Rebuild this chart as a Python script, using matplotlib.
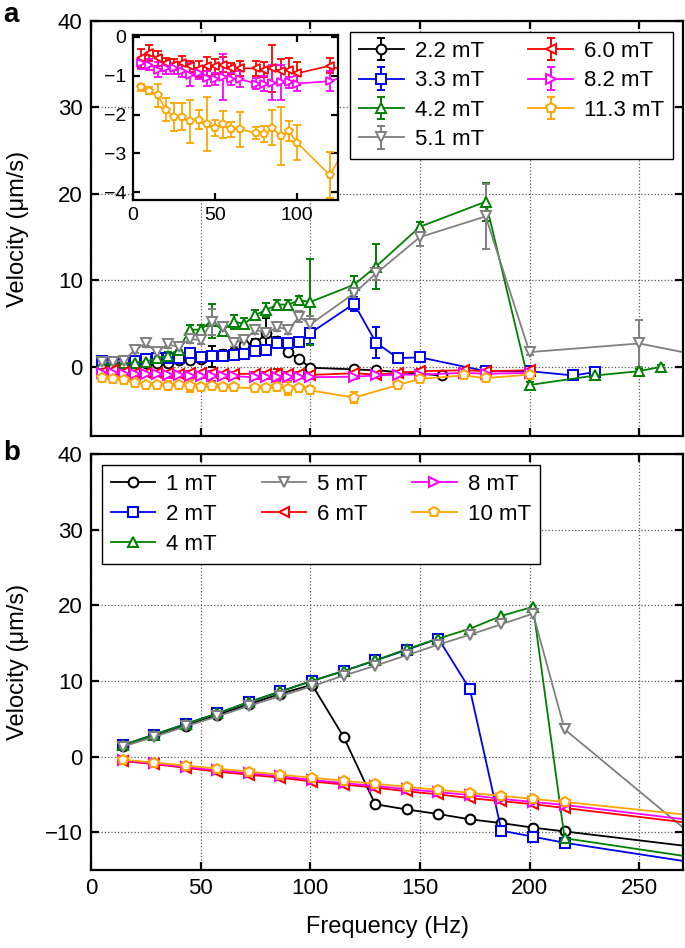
import matplotlib
matplotlib.use("Agg")
import matplotlib.pyplot as plt

plt.rcParams['font.family'] = ['Liberation Sans', 'DejaVu Sans']

# ---- panel a data (measured) ----
fa = [5, 10, 15, 20, 25, 30, 35, 40, 45, 50, 55, 60, 65, 70, 75, 80, 85, 90, 95, 100]

a22_f = fa + [120, 130, 160]
a22_v = [0.2, 0.3, 0.3, 0.4, 0.4, 0.5, 0.5, 0.8, 0.8, 0.9, 1.2, 1.5, 1.7, 2.5, 2.7, 3.9, 3.0, 1.7, 0.9, -0.1,
         -0.3, -0.4, -1.0]
a22_e = [0.2, 0.2, 0.2, 0.2, 0.2, 0.2, 0.3, 0.3, 0.3, 0.3, 1.2, 0.4, 0.4, 0.5, 0.5, 1.8, 0.5, 0.5, 0.4, 0.3,
         0.2, 0.2, 0.2]

a33_f = fa + [120, 130, 140, 150, 180, 200, 220, 230]
a33_v = [0.7, 0.6, 0.6, 0.7, 0.9, 1.0, 1.0, 1.0, 1.6, 1.1, 1.3, 1.2, 1.4, 1.5, 1.8, 2.0, 2.8, 2.7, 2.9, 3.9,
         7.3, 2.8, 1.0, 1.1, -0.5, -0.5, -1.0, -0.6]
a33_e = [0.3, 0.3, 0.3, 0.3, 0.3, 0.3, 0.3, 0.3, 0.4, 0.3, 0.3, 0.3, 0.3, 0.3, 0.4, 0.5, 0.4, 0.4, 0.4, 1.3,
         0.8, 1.8, 0.3, 0.3, 0.2, 0.2, 0.2, 0.2]

a42_f = fa + [120, 130, 150, 180, 200, 230, 250, 260]
a42_v = [0.3, 0.3, 0.4, 0.5, 0.6, 1.0, 1.3, 2.0, 4.3, 4.3, 5.3, 4.2, 5.2, 5.0, 6.0, 6.6, 7.2, 7.2, 7.7, 7.5,
         9.5, 11.6, 16.2, 19.1, -2.1, -1.0, -0.5, 0.0]
a42_e = [0.3, 0.3, 0.3, 0.3, 0.3, 0.3, 0.4, 0.4, 0.5, 0.5, 2.0, 0.5, 0.8, 0.6, 0.6, 0.8, 0.5, 0.5, 0.5, 5.0,
         1.0, 2.6, 0.6, 2.2, 0.3, 0.5, 0.3, 0.2]

a51_f = fa + [120, 130, 150, 180, 200, 250, 280]
a51_v = [0.6, 0.6, 0.7, 2.0, 2.7, 1.7, 2.6, 2.3, 3.2, 3.1, 5.2, 4.6, 2.8, 3.1, 4.3, 3.9, 4.6, 4.3, 5.8, 4.9,
         8.5, 10.8, 15.0, 17.4, 1.7, 2.7, 1.2]
a51_e = [0.3, 0.3, 0.3, 0.4, 0.4, 0.4, 0.4, 0.4, 0.5, 0.5, 1.5, 0.6, 0.5, 0.5, 0.5, 0.6, 0.5, 0.5, 0.6, 1.0,
         0.5, 0.8, 1.0, 3.8, 0.3, 2.7, 0.3]

fr = [5, 10, 15, 20, 25, 30, 35, 40, 45, 50, 55, 60, 65, 75, 80, 85, 90, 95, 100, 120]

a60_f = fr + [130, 140, 150, 170, 180, 200]
a60_v = [-0.55, -0.42, -0.55, -0.68, -0.71, -0.68, -0.76, -0.83, -0.76, -0.76, -0.71, -0.81, -0.81, -0.81,
         -0.84, -0.81, -0.88, -0.84, -0.94, -0.74, -0.9, -0.7, -0.5, -0.4, -0.5, -0.4]
a60_e = [0.25, 0.2, 0.2, 0.15, 0.15, 0.2, 0.15, 0.2, 0.25, 0.2, 0.2, 0.15, 0.2, 0.2, 0.2, 0.6, 0.3, 0.3,
         0.3, 0.2, 0.2, 0.2, 0.2, 0.2, 0.2, 0.2]

a82_f = fr + [130, 140, 150, 170, 180, 200]
a82_v = [-0.68, -0.71, -0.84, -0.81, -0.81, -0.88, -0.97, -0.94, -1.07, -1.09, -1.03, -1.09, -1.09, -1.2,
         -1.2, -1.18, -1.17, -1.17, -1.2, -1.14, -1.0, -0.9, -0.9, -0.7, -0.8, -0.7]
a82_e = [0.15, 0.15, 0.2, 0.15, 0.15, 0.15, 0.3, 0.15, 0.2, 0.15, 0.6, 0.15, 0.2, 0.15, 0.2, 0.45, 0.45,
         0.15, 0.2, 0.25, 0.2, 0.2, 0.2, 0.2, 0.2, 0.2]

a113_f = fr + [140, 150, 170, 180, 200]
a113_v = [-1.3, -1.38, -1.5, -1.87, -2.06, -2.05, -2.17, -2.13, -2.25, -2.34, -2.25, -2.38, -2.38, -2.47,
          -2.5, -2.34, -2.55, -2.42, -2.72, -3.56, -2.1, -1.4, -1.0, -1.3, -0.9]
a113_e = [0.1, 0.1, 0.3, 0.3, 0.35, 0.35, 0.55, 0.25, 0.7, 0.2, 0.35, 0.2, 0.45, 0.15, 0.2, 0.45, 0.75,
          0.25, 0.45, 0.6, 0.3, 0.3, 0.3, 0.3, 0.3]

# ---- panel b data (simulation) ----
fb = [14.4, 28.8, 43.2, 57.6, 72.0, 86.4, 100.8, 115.2, 129.6, 144.0, 158.4, 172.8, 187.2, 201.6, 216.0, 288.0]
b1 = [1.4, 2.8, 4.1, 5.5, 6.9, 8.3, 9.5, 2.6, -6.3, -7.0, -7.6, -8.3, -8.8, -9.4, -9.9, -12.4]
b2 = [1.5, 2.9, 4.3, 5.7, 7.2, 8.6, 10.0, 11.3, 12.7, 14.1, 15.6, 8.9, -9.8, -10.6, -11.4, -14.6]
b4 = [1.5, 2.9, 4.3, 5.7, 7.2, 8.6, 10.0, 11.3, 12.7, 14.2, 15.6, 16.9, 18.6, 19.8, -10.8, -13.9]
b5 = [1.3, 2.6, 4.0, 5.3, 6.7, 8.0, 9.3, 10.7, 12.0, 13.4, 14.8, 16.1, 17.5, 18.9, 3.6, -13.7]
b6 = [-0.6, -1.0, -1.5, -2.0, -2.4, -2.8, -3.3, -3.7, -4.1, -4.6, -5.0, -5.5, -5.9, -6.3, -6.8, -9.3]
b8 = [-0.5, -0.9, -1.4, -1.8, -2.2, -2.6, -3.1, -3.5, -3.9, -4.3, -4.7, -5.1, -5.6, -6.0, -6.4, -8.9]
b10 = [-0.4, -0.8, -1.2, -1.6, -2.0, -2.4, -2.8, -3.2, -3.6, -4.0, -4.4, -4.8, -5.2, -5.6, -6.0, -8.2]

cols = ['black', '#0000ee', '#008000', '#808080', '#ff0000', '#ff00ff', '#ffa500']
marks = ['o', 's', '^', 'v', '<', '>', 'p']

series_a = [(a22_f, a22_v, a22_e, '2.2 mT'), (a33_f, a33_v, a33_e, '3.3 mT'),
            (a42_f, a42_v, a42_e, '4.2 mT'), (a51_f, a51_v, a51_e, '5.1 mT'),
            (a60_f, a60_v, a60_e, '6.0 mT'), (a82_f, a82_v, a82_e, '8.2 mT'),
            (a113_f, a113_v, a113_e, '11.3 mT')]
series_b = [(b1, '1 mT'), (b2, '2 mT'), (b4, '4 mT'), (b5, '5 mT'),
            (b6, '6 mT'), (b8, '8 mT'), (b10, '10 mT')]

W, H = 685, 948
fig = plt.figure(figsize=(W / 100, H / 100), dpi=100)


def px_axes(l, t, r, b):
    return fig.add_axes([l / W, 1 - b / H, (r - l) / W, (b - t) / H])


def style(ax, size):
    for s in ax.spines.values():
        s.set_linewidth(1.6)
    ax.tick_params(direction='in', top=True, right=True, length=6, width=1.6, labelsize=size, pad=6)


# panel a
ax1 = px_axes(91, 21, 683, 436)
for (f, v, e, lab), c, m in zip(series_a, cols, marks):
    ax1.errorbar(f, v, yerr=e, color=c, marker=m, ms=7, mfc='white', mew=1.4, lw=1.3,
                 elinewidth=1.4, capsize=3, capthick=1.4, label=lab)
ax1.set_xlim(0, 270)
ax1.set_ylim(-8, 40)
ax1.set_xticks([0, 50, 100, 150, 200, 250])
ax1.set_xticklabels([])
ax1.set_yticks([0, 10, 20, 30, 40])
ax1.grid(True, ls=':', color='0.35', lw=0.9)
style(ax1, 16)
ax1.set_ylabel('Velocity (μm/s)', fontsize=17)
ax1.yaxis.set_label_coords(-0.105, 0.5)
ax1.legend(ncol=2, loc='upper right', bbox_to_anchor=(673 / W, 1 - 32 / H),
           bbox_transform=fig.transFigure, borderaxespad=0, fontsize=16, fancybox=False,
           edgecolor='black', framealpha=1, handlelength=2.0, handletextpad=0.5,
           columnspacing=2.0, labelspacing=0.38, borderpad=0.4)

# inset
axi = px_axes(133, 35, 338, 200)
for (f, v, e, lab), c, m in list(zip(series_a, cols, marks))[4:]:
    axi.errorbar(f, v, yerr=e, color=c, marker=m, ms=6, mfc='white', mew=1.3, lw=1.2,
                 elinewidth=1.3, capsize=3, capthick=1.3)
axi.set_xlim(0, 125)
axi.set_ylim(-4.2, 0.05)
axi.set_xticks([0, 50, 100])
axi.set_yticks([0, -1, -2, -3, -4])
axi.set_yticklabels(['0', '−1', '−2', '−3', '−4'])
style(axi, 14)
axi.tick_params(length=5, pad=5)

# panel b
ax2 = px_axes(91, 454, 683, 870)
for (v, lab), c, m in zip(series_b, cols, marks):
    ax2.plot(fb, v, color=c, marker=m, ms=7, mfc='white', mew=1.5, lw=1.3, label=lab)
ax2.set_xlim(0, 270)
ax2.set_ylim(-15, 40)
ax2.set_xticks([0, 50, 100, 150, 200, 250])
ax2.set_yticks([-10, 0, 10, 20, 30, 40])
ax2.set_yticklabels(['−10', '0', '10', '20', '30', '40'])
ax2.grid(True, ls=':', color='0.35', lw=0.9)
style(ax2, 16)
ax2.set_ylabel('Velocity (μm/s)', fontsize=17)
ax2.yaxis.set_label_coords(-0.105, 0.5)
ax2.set_xlabel('Frequency (Hz)', fontsize=17, labelpad=12)
ax2.legend(ncol=3, loc='upper left', bbox_to_anchor=(102 / W, 1 - 465 / H),
           bbox_transform=fig.transFigure, borderaxespad=0, fontsize=16, fancybox=False,
           edgecolor='black', framealpha=1, handlelength=2.0, handletextpad=0.5,
           columnspacing=2.0, labelspacing=0.4, borderpad=0.4)

fig.text(3 / W, 1 - 2 / H, 'a', fontsize=20, fontweight='bold', va='top', ha='left')
fig.text(3 / W, 1 - 440 / H, 'b', fontsize=20, fontweight='bold', va='top', ha='left')

fig.savefig('out.png', dpi=100)
